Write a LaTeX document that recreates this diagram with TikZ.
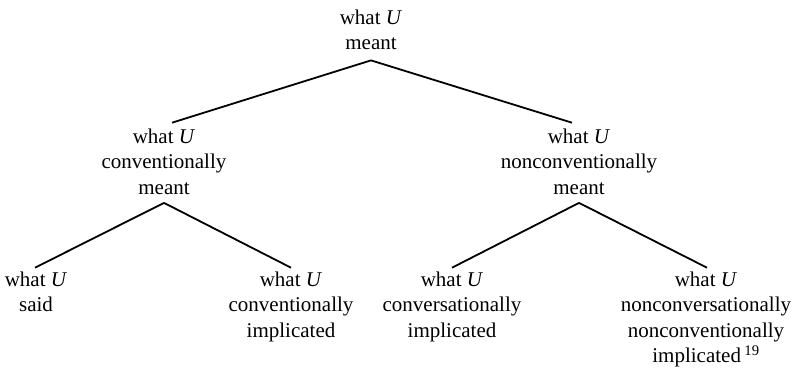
\documentclass[tikz,border=0pt]{standalone}
\usepackage{fontspec}
\setmainfont{Liberation Serif}
\begin{document}
\begin{tikzpicture}[x=1pt,y=-1pt,
  lbl/.style={anchor=north, align=center, inner sep=0pt, font=\fontsize{21}{25.5}\selectfont},
  edge/.style={line width=1.8pt}]
\useasboundingbox (0,0) rectangle (795,370);
\node[lbl] (r)  at (371,9.7)   {what \textit{U}\\meant};
\node[lbl] (lc) at (164,128.7) {what \textit{U}\\conventionally\\meant};
\node[lbl] (rc) at (579,128.7) {what \textit{U}\\nonconventionally\\meant};
\node[lbl] (l1) at (36,271.7)  {what \textit{U}\\said};
\node[lbl] (l2) at (291,271.7) {what \textit{U}\\conventionally\\implicated};
\node[lbl] (l3) at (452,271.7) {what \textit{U}\\conversationally\\implicated};
\node[lbl] (l4) at (706,271.7) {what \textit{U}\\nonconversationally\\nonconventionally\\implicated\,\textsuperscript{19}};
\draw[edge] ([yshift=-10pt]r.south) -- ([xshift=8pt,yshift=6pt]lc.north);
\draw[edge] ([yshift=-10pt]r.south) -- ([xshift=-7pt,yshift=6pt]rc.north);
\draw[edge] ([yshift=-8pt]lc.south) -- ([xshift=-1pt,yshift=4pt]l1.north);
\draw[edge] ([yshift=-8pt]lc.south) -- ([yshift=4pt]l2.north);
\draw[edge] ([yshift=-8pt]rc.south) -- ([yshift=4pt]l3.north);
\draw[edge] ([yshift=-8pt]rc.south) -- ([xshift=1pt,yshift=4pt]l4.north);
\end{tikzpicture}
\end{document}
